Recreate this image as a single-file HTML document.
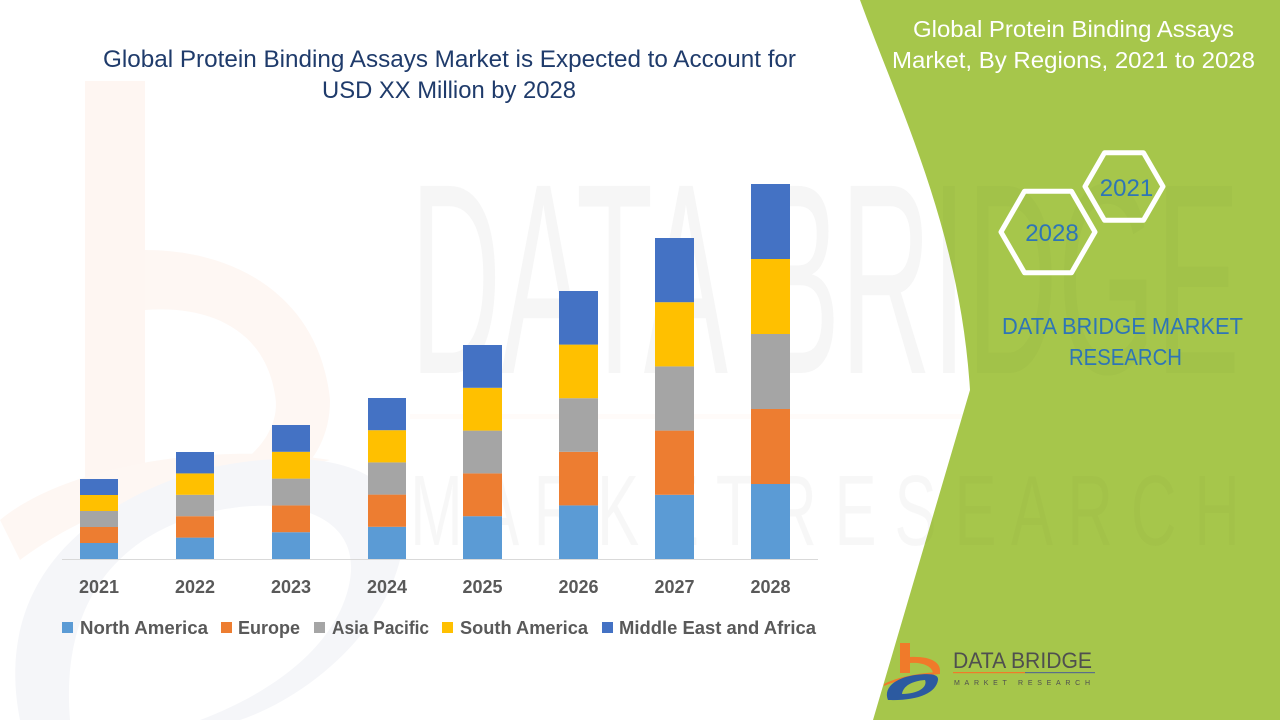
<!DOCTYPE html>
<html>
<head>
<meta charset="utf-8">
<style>
  html,body{margin:0;padding:0;background:#fff;}
  body{width:1280px;height:720px;overflow:hidden;}
  svg{display:block;}
  text{font-family:"Liberation Sans", Arial, sans-serif;}
</style>
</head>
<body>
<svg width="1280" height="720" viewBox="0 0 1280 720" xmlns="http://www.w3.org/2000/svg">
  <rect x="0" y="0" width="1280" height="720" fill="#ffffff"/>

  <!-- faint left watermark logo -->
  <g>
    <rect x="85" y="81" width="60" height="400" fill="#fef6f2"/>
    <path d="M145,250 C240,250 320,300 330,400 C330,450 300,480 260,500 L230,470 C265,450 280,420 275,395 C265,330 210,305 145,310 Z" fill="#fef7f3"/>
    <path d="M0,520 C60,470 200,440 330,460 C300,470 140,470 20,560 Z" fill="#fef7f3"/>
    <path d="M20,720 C0,620 40,520 200,470 C330,440 420,470 400,560 C380,640 300,700 240,720 L200,720 C280,690 340,640 350,580 C360,520 300,495 220,510 C120,530 60,600 70,720 Z" fill="#f5f6f9"/>
  </g>

  <!-- faint DATA BRIDGE watermark -->
  <text x="410" y="373" font-size="272" textLength="830" lengthAdjust="spacingAndGlyphs" fill="#000" fill-opacity="0.016">DATA BRIDGE</text>
  <rect x="410" y="414" width="830" height="5" fill="#f7a060" fill-opacity="0.04"/>
  <text x="410" y="545" font-size="100" textLength="830" lengthAdjust="spacingAndGlyphs" fill="#000" fill-opacity="0.014">M A R K E T  R E S E A R C H</text>

  <!-- green right panel -->
  <path d="M860,0 C900,110 960,230 970,390 L873,720 L1280,720 L1280,0 Z" fill="#a6c64b"/>
  <!-- faint watermark over green -->
  <text x="410" y="373" font-size="272" textLength="830" lengthAdjust="spacingAndGlyphs" fill="#000" fill-opacity="0.018">DATA BRIDGE</text>
  <text x="410" y="545" font-size="100" textLength="830" lengthAdjust="spacingAndGlyphs" fill="#000" fill-opacity="0.015">M A R K E T  R E S E A R C H</text>

  <!-- main title -->
  <text x="103" y="67" font-size="24" fill="#1f3b6b" textLength="693" lengthAdjust="spacingAndGlyphs">Global Protein Binding Assays Market is Expected to Account for</text>
  <text x="322" y="98" font-size="24" fill="#1f3b6b" textLength="254" lengthAdjust="spacingAndGlyphs">USD XX Million by 2028</text>

  <!-- axis -->
  <line x1="62" y1="559.5" x2="818" y2="559.5" stroke="#d9d9d9" stroke-width="1"/>

  <!-- bars -->
  <g>
    <rect x="80" y="543" width="38" height="16" fill="#5b9bd5"/>
    <rect x="80" y="527" width="38" height="16" fill="#ed7d31"/>
    <rect x="80" y="511" width="38" height="16" fill="#a5a5a5"/>
    <rect x="80" y="495" width="38" height="16" fill="#ffc000"/>
    <rect x="80" y="479" width="38" height="16" fill="#4472c4"/>
  </g>
  <g>
    <rect x="176" y="537.6" width="38" height="21.4" fill="#5b9bd5"/>
    <rect x="176" y="516.2" width="38" height="21.4" fill="#ed7d31"/>
    <rect x="176" y="494.8" width="38" height="21.4" fill="#a5a5a5"/>
    <rect x="176" y="473.4" width="38" height="21.4" fill="#ffc000"/>
    <rect x="176" y="452" width="38" height="21.4" fill="#4472c4"/>
  </g>
  <g>
    <rect x="272" y="532.2" width="38" height="26.8" fill="#5b9bd5"/>
    <rect x="272" y="505.4" width="38" height="26.8" fill="#ed7d31"/>
    <rect x="272" y="478.6" width="38" height="26.8" fill="#a5a5a5"/>
    <rect x="272" y="451.8" width="38" height="26.8" fill="#ffc000"/>
    <rect x="272" y="425" width="38" height="26.8" fill="#4472c4"/>
  </g>
  <g>
    <rect x="368" y="526.8" width="38" height="32.2" fill="#5b9bd5"/>
    <rect x="368" y="494.6" width="38" height="32.2" fill="#ed7d31"/>
    <rect x="368" y="462.4" width="38" height="32.2" fill="#a5a5a5"/>
    <rect x="368" y="430.2" width="38" height="32.2" fill="#ffc000"/>
    <rect x="368" y="398" width="38" height="32.2" fill="#4472c4"/>
  </g>
  <g>
    <rect x="463" y="516.2" width="39" height="42.8" fill="#5b9bd5"/>
    <rect x="463" y="473.4" width="39" height="42.8" fill="#ed7d31"/>
    <rect x="463" y="430.6" width="39" height="42.8" fill="#a5a5a5"/>
    <rect x="463" y="387.8" width="39" height="42.8" fill="#ffc000"/>
    <rect x="463" y="345" width="39" height="42.8" fill="#4472c4"/>
  </g>
  <g>
    <rect x="559" y="505.4" width="39" height="53.6" fill="#5b9bd5"/>
    <rect x="559" y="451.8" width="39" height="53.6" fill="#ed7d31"/>
    <rect x="559" y="398.2" width="39" height="53.6" fill="#a5a5a5"/>
    <rect x="559" y="344.6" width="39" height="53.6" fill="#ffc000"/>
    <rect x="559" y="291" width="39" height="53.6" fill="#4472c4"/>
  </g>
  <g>
    <rect x="655" y="494.8" width="39" height="64.2" fill="#5b9bd5"/>
    <rect x="655" y="430.6" width="39" height="64.2" fill="#ed7d31"/>
    <rect x="655" y="366.4" width="39" height="64.2" fill="#a5a5a5"/>
    <rect x="655" y="302.2" width="39" height="64.2" fill="#ffc000"/>
    <rect x="655" y="238" width="39" height="64.2" fill="#4472c4"/>
  </g>
  <g>
    <rect x="751" y="484" width="39" height="75" fill="#5b9bd5"/>
    <rect x="751" y="409" width="39" height="75" fill="#ed7d31"/>
    <rect x="751" y="334" width="39" height="75" fill="#a5a5a5"/>
    <rect x="751" y="259" width="39" height="75" fill="#ffc000"/>
    <rect x="751" y="184" width="39" height="75" fill="#4472c4"/>
  </g>

  <!-- year labels -->
  <g font-size="18" font-weight="bold" fill="#595959" text-anchor="middle">
    <text x="99" y="593">2021</text>
    <text x="195" y="593">2022</text>
    <text x="291" y="593">2023</text>
    <text x="387" y="593">2024</text>
    <text x="482.5" y="593">2025</text>
    <text x="578.5" y="593">2026</text>
    <text x="674.5" y="593">2027</text>
    <text x="770.5" y="593">2028</text>
  </g>

  <!-- legend -->
  <g font-size="18" font-weight="bold" fill="#595959">
    <rect x="62" y="622" width="11" height="11" fill="#5b9bd5"/>
    <text x="80" y="634" textLength="128" lengthAdjust="spacingAndGlyphs">North America</text>
    <rect x="221" y="622" width="11" height="11" fill="#ed7d31"/>
    <text x="238" y="634" textLength="62" lengthAdjust="spacingAndGlyphs">Europe</text>
    <rect x="314" y="622" width="11" height="11" fill="#a5a5a5"/>
    <text x="332" y="634" textLength="97" lengthAdjust="spacingAndGlyphs">Asia Pacific</text>
    <rect x="442" y="622" width="11" height="11" fill="#ffc000"/>
    <text x="460" y="634" textLength="128" lengthAdjust="spacingAndGlyphs">South America</text>
    <rect x="602" y="622" width="11" height="11" fill="#4472c4"/>
    <text x="619" y="634" textLength="197" lengthAdjust="spacingAndGlyphs">Middle East and Africa</text>
  </g>

  <!-- right header -->
  <text x="913" y="37" font-size="23" fill="#ffffff" textLength="321" lengthAdjust="spacingAndGlyphs">Global Protein Binding Assays</text>
  <text x="892" y="68" font-size="23" fill="#ffffff" textLength="363" lengthAdjust="spacingAndGlyphs">Market, By Regions, 2021 to 2028</text>

  <!-- hexagons -->
  <g fill="none" stroke="#ffffff" stroke-width="5" stroke-linejoin="round">
    <path d="M1163,186.5 L1143.5,152.7 L1104.5,152.7 L1085,186.5 L1104.5,220.3 L1143.5,220.3 Z"/>
    <path d="M1095,232 L1071.5,191.3 L1024.5,191.3 L1001,232 L1024.5,272.7 L1071.5,272.7 Z"/>
  </g>
  <text x="1126.5" y="196" font-size="24" fill="#2e75b6" text-anchor="middle">2021</text>
  <text x="1052" y="241" font-size="24" fill="#2e75b6" text-anchor="middle">2028</text>

  <!-- DATA BRIDGE MARKET RESEARCH -->
  <text x="1002" y="334" font-size="23" fill="#2e75b6" textLength="241" lengthAdjust="spacingAndGlyphs">DATA BRIDGE MARKET</text>
  <text x="1069" y="365" font-size="23" fill="#2e75b6" textLength="113" lengthAdjust="spacingAndGlyphs">RESEARCH</text>

  <!-- bottom logo -->
  <g>
    <rect x="900" y="643" width="10" height="30" fill="#f07a2a"/>
    <path d="M910,657 C930,656 941,662 940,672 L933,673 C932,666 922,662 910,663 Z" fill="#f07a2a"/>
    <path d="M884,684 C900,676 920,673 940,672 L940,674 C918,676 900,679 884,686 Z" fill="#f07a2a"/>
    <path d="M888,700 C883,688 895,678 915,675 C930,673 939,674 938,680 C936,693 918,701 888,700 Z" fill="#2c5aa0"/>
    <path d="M902,694 C903,686 912,681 925,680 C928,687 918,694 902,694 Z" fill="#a6c64b"/>
    <text x="953" y="668" font-size="22" fill="#4f4f4f" textLength="139" lengthAdjust="spacingAndGlyphs">DATA BRIDGE</text>
    <rect x="953" y="672" width="72" height="1.2" fill="#f07a2a"/>
    <rect x="1025" y="672" width="70" height="1.2" fill="#5a6f8a"/>
    <text x="954" y="685" font-size="7" fill="#4f4f4f" textLength="136" lengthAdjust="spacing">MARKET  RESEARCH</text>
  </g>
</svg>
</body>
</html>
